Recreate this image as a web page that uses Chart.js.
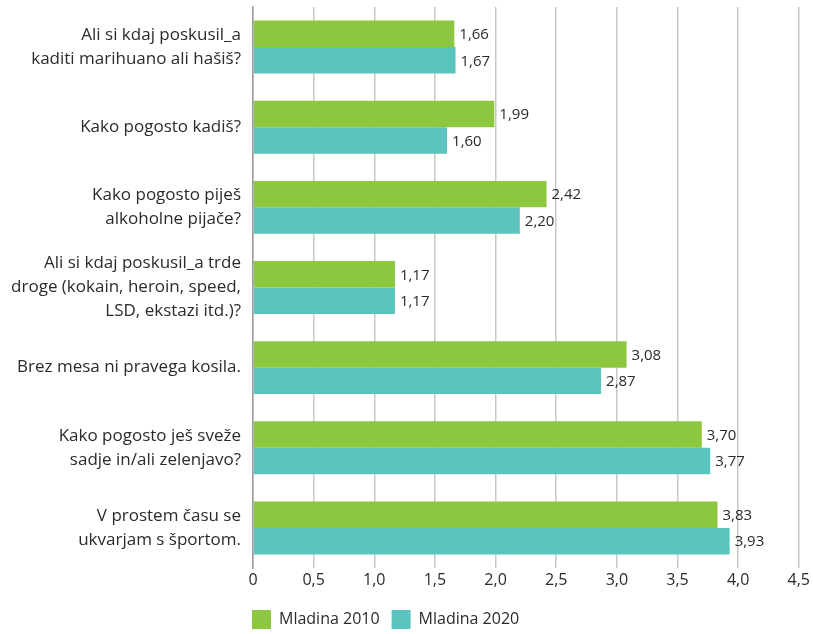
<!DOCTYPE html>
<html>
<head>
<meta charset="utf-8">
<script src="https://cdn.jsdelivr.net/npm/chart.js@4"></script>
<style>
  html, body { margin: 0; padding: 0; background: #fff; }
  #wrap { width: 813px; height: 634px; }
</style>
</head>
<body>
<div id="wrap"><canvas id="barChart" width="813" height="634"></canvas></div>
<script>
const categories = [
    ['Ali si kdaj poskusil_a', 'kaditi marihuano ali hašiš?'],
    'Kako pogosto kadiš?',
    ['Kako pogosto piješ', 'alkoholne pijače?'],
    ['Ali si kdaj poskusil_a trde', 'droge (kokain, heroin, speed,', 'LSD, ekstazi itd.)?'],
    'Brez mesa ni pravega kosila.',
    ['Kako pogosto ješ sveže', 'sadje in/ali zelenjavo?'],
    ['V prostem času se', 'ukvarjam s športom.']
];
const seriesNames = ['Mladina 2010', 'Mladina 2020'];
const values2010 = [1.66, 1.99, 2.42, 1.17, 3.08, 3.70, 3.83];
const values2020 = [1.67, 1.60, 2.20, 1.17, 2.87, 3.77, 3.93];
const xTicks = [0, 0.5, 1.0, 1.5, 2.0, 2.5, 3.0, 3.5, 4.0, 4.5];

const fontFamily = '"Open Sans", Lato, sans-serif';
const textColor = '#2b2b2b';

// values written after the end of each bar
const valueLabels = {
    id: 'valueLabels',
    afterDatasetsDraw(chart) {
        const ctx = chart.ctx;
        ctx.save();
        ctx.font = '15px ' + fontFamily;
        ctx.fillStyle = textColor;
        ctx.textAlign = 'left';
        ctx.textBaseline = 'middle';
        chart.data.datasets.forEach(function (ds, i) {
            chart.getDatasetMeta(i).data.forEach(function (bar, j) {
                const txt = ds.data[j].toFixed(2).replace('.', ',');
                ctx.fillText(txt, bar.x + 5, bar.y + 1);
            });
        });
        ctx.restore();
    }
};

// legend sits under the plot, flush with its left edge
const legendShift = {
    id: 'legendShift',
    afterLayout(chart) {
        const lg = chart.legend;
        const dy = 598 - lg.top;
        lg.left -= 13;
        lg.right -= 13;
        lg.top += dy;
        lg.bottom += dy;
    }
};

document.addEventListener('DOMContentLoaded', function () {
    const config = {
        type: 'bar',
        data: {
            labels: categories,
            datasets: [{
                label: seriesNames[0],
                data: values2010,
                backgroundColor: '#8dc63f',
                categoryPercentage: 0.66,
                barPercentage: 1.0
            }, {
                label: seriesNames[1],
                data: values2020,
                backgroundColor: '#5bc4bf',
                categoryPercentage: 0.66,
                barPercentage: 1.0
            }]
        },
        options: {
            indexAxis: 'y',
            responsive: false,
            animation: false,
            layout: {
                padding: { top: 7, right: 13, left: 0, bottom: 0 }
            },
            scales: {
                x: {
                    min: 0,
                    max: 4.5,
                    afterBuildTicks: function (scale) {
                        scale.ticks = xTicks.map(v => ({ value: v }));
                    },
                    afterFit: function (scale) {
                        scale.height = 25;
                        scale.paddingLeft = 0;
                    },
                    ticks: {
                        color: textColor,
                        font: { family: fontFamily, size: 16 },
                        padding: 3,
                        callback: function (v) {
                            return v === 0 ? '0' : Number(v).toFixed(1).replace('.', ',');
                        }
                    },
                    grid: {
                        color: '#c8c8c8',
                        lineWidth: 1.5,
                        drawTicks: false
                    },
                    border: { display: false }
                },
                y: {
                    afterFit: function (scale) {
                        scale.width = 253;
                        scale.paddingTop = 0;
                        scale.paddingBottom = 0;
                    },
                    ticks: {
                        autoSkip: false,
                        color: textColor,
                        font: { family: fontFamily, size: 17, lineHeight: 1.42 },
                        padding: 4
                    },
                    grid: { display: false },
                    border: { color: '#999', width: 1.5 }
                }
            },
            plugins: {
                legend: {
                    position: 'bottom',
                    align: 'start',
                    fullSize: false,
                    labels: {
                        boxWidth: 19,
                        boxHeight: 19,
                        color: textColor,
                        font: { family: fontFamily, size: 16 },
                        padding: 12
                    }
                },
                tooltip: { enabled: false }
            }
        },
        plugins: [valueLabels, legendShift]
    };

    var ctx = document.getElementById('barChart').getContext('2d');
    var myBarChart = new Chart(ctx, config);
});
</script>
</body>
</html>
